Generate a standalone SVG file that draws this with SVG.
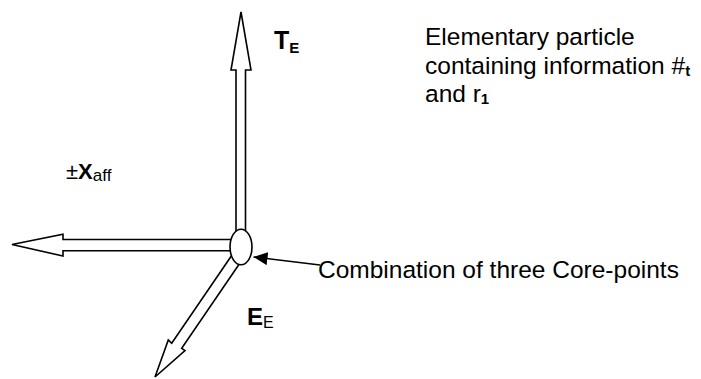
<svg xmlns="http://www.w3.org/2000/svg" width="701" height="379" viewBox="0 0 701 379">
<defs>
<style>
.arr{fill:#fff;stroke:#000;stroke-width:1.6;stroke-linejoin:miter}
.t{font-family:"Liberation Sans",Arial,sans-serif;fill:#000}
.b{font-weight:bold}
</style>
<marker id="ah" markerWidth="14" markerHeight="13" refX="14" refY="6.5" orient="auto" markerUnits="userSpaceOnUse">
<path d="M0,0 L14,6.5 L0,13 Z" fill="#000"/>
</marker>
</defs>
<g id="axes">
<polygon id="arrow-T" class="arr" points="236,235 236,70 231,70 241,12 251,70 245.5,70 245.5,235"/>
<polygon id="arrow-X" class="arr" points="235,239.5 63,239.5 63,234.3 12,244.5 63,256 63,250.7 235,250.7"/>
<polygon id="arrow-E" class="arr" points="232,255 171.7,343.3 168.3,340 155,377 185,350.5 181.7,348.3 242,260"/>
</g>
<g id="core">
<ellipse cx="241" cy="247" rx="11" ry="17.8" fill="#fff" stroke="#000" stroke-width="1.6"/>
</g>
<g id="connectors">
<line x1="320" y1="265" x2="253.5" y2="257" stroke="#000" stroke-width="1.6" marker-end="url(#ah)"/>
</g>
<g id="label-core">
<text class="t" x="318" y="278" font-size="24.5">Combination of three Core-points</text>
</g>
<g id="label-particle">
<text class="t" x="425" y="45" font-size="24.5">Elementary particle</text>
<text class="t" x="425" y="74" font-size="24.5">containing information #<tspan class="b" font-size="15" dy="2">t</tspan></text>
<text class="t" x="425" y="102" font-size="24.5">and r<tspan class="b" font-size="15" dy="2">1</tspan></text>
</g>
<g id="label-T">
<text class="t" x="274" y="49" font-size="25"><tspan class="b">T</tspan><tspan class="b" font-size="15" dy="4">E</tspan></text>
</g>
<g id="label-E">
<text class="t" x="247" y="325" font-size="24"><tspan class="b">E</tspan><tspan font-size="16" dy="3">E</tspan></text>
</g>
<g id="label-X">
<text class="t" x="66" y="179" font-size="22">±<tspan class="b">X</tspan><tspan font-size="17" dy="2">aff</tspan></text>
</g>
</svg>
